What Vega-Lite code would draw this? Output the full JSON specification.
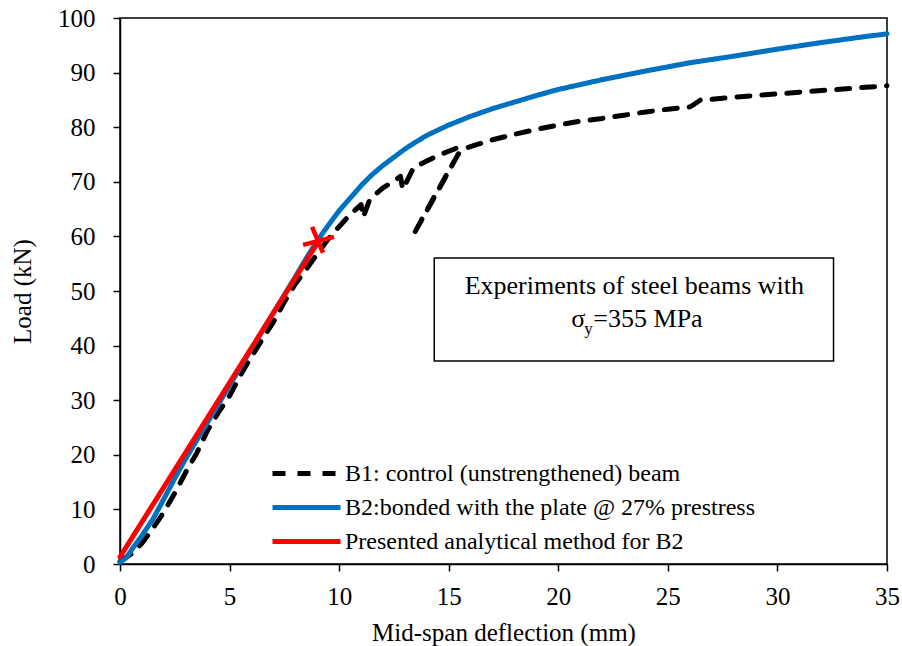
{
  "$schema": "https://vega.github.io/schema/vega-lite/v6.json",
  "width": 767,
  "height": 546,
  "autosize": {"type": "none"},
  "padding": {"left": 120, "top": 18, "right": 15, "bottom": 82},
  "background": "white",
  "config": {
    "font": "Liberation Serif",
    "view": {"stroke": "black", "strokeWidth": 1.5},
    "axis": {
      "grid": false,
      "labelFlush": false,
      "domainColor": "black",
      "domainWidth": 1.5,
      "tickColor": "black",
      "tickWidth": 1.5,
      "tickSize": 7,
      "labelFont": "Liberation Serif",
      "labelFontSize": 25,
      "labelColor": "black",
      "titleFont": "Liberation Serif",
      "titleFontSize": 25,
      "titleFontWeight": "normal",
      "titleColor": "black"
    },
    "legend": {
      "orient": "none",
      "legendX": 167,
      "legendY": 436,
      "symbolType": "M-2,0H2",
      "symbolSize": 1156,
      "symbolStrokeWidth": 5,
      "labelFont": "Liberation Serif",
      "labelFontSize": 24,
      "labelColor": "black",
      "labelOffset": 19,
      "labelLimit": 600,
      "rowPadding": 2
    }
  },
  "data": {
    "values": [
      {"s": "B1: control (unstrengthened) beam", "i": 0, "x": 0, "y": 0.5},
      {"s": "B1: control (unstrengthened) beam", "i": 1, "x": 0.5, "y": 1.8},
      {"s": "B1: control (unstrengthened) beam", "i": 2, "x": 1, "y": 3.8},
      {"s": "B1: control (unstrengthened) beam", "i": 3, "x": 1.5, "y": 6.5},
      {"s": "B1: control (unstrengthened) beam", "i": 4, "x": 2, "y": 9.5},
      {"s": "B1: control (unstrengthened) beam", "i": 5, "x": 2.5, "y": 13},
      {"s": "B1: control (unstrengthened) beam", "i": 6, "x": 3, "y": 16.8},
      {"s": "B1: control (unstrengthened) beam", "i": 7, "x": 3.5, "y": 20.3},
      {"s": "B1: control (unstrengthened) beam", "i": 8, "x": 4, "y": 24.5},
      {"s": "B1: control (unstrengthened) beam", "i": 9, "x": 4.5, "y": 27.8},
      {"s": "B1: control (unstrengthened) beam", "i": 10, "x": 5, "y": 30.8},
      {"s": "B1: control (unstrengthened) beam", "i": 11, "x": 5.5, "y": 34.6},
      {"s": "B1: control (unstrengthened) beam", "i": 12, "x": 6, "y": 38},
      {"s": "B1: control (unstrengthened) beam", "i": 13, "x": 6.5, "y": 41.2},
      {"s": "B1: control (unstrengthened) beam", "i": 14, "x": 7, "y": 44.3},
      {"s": "B1: control (unstrengthened) beam", "i": 15, "x": 7.5, "y": 48},
      {"s": "B1: control (unstrengthened) beam", "i": 16, "x": 8, "y": 51.3},
      {"s": "B1: control (unstrengthened) beam", "i": 17, "x": 8.5, "y": 54},
      {"s": "B1: control (unstrengthened) beam", "i": 18, "x": 9, "y": 56.8},
      {"s": "B1: control (unstrengthened) beam", "i": 19, "x": 9.5, "y": 59.5},
      {"s": "B1: control (unstrengthened) beam", "i": 20, "x": 10, "y": 61.8},
      {"s": "B1: control (unstrengthened) beam", "i": 21, "x": 10.5, "y": 64},
      {"s": "B1: control (unstrengthened) beam", "i": 22, "x": 11, "y": 65.8},
      {"s": "B1: control (unstrengthened) beam", "i": 23, "x": 11.1, "y": 63.5},
      {"s": "B1: control (unstrengthened) beam", "i": 24, "x": 11.4, "y": 66.8},
      {"s": "B1: control (unstrengthened) beam", "i": 25, "x": 12, "y": 68.9},
      {"s": "B1: control (unstrengthened) beam", "i": 26, "x": 12.6, "y": 70.4},
      {"s": "B1: control (unstrengthened) beam", "i": 27, "x": 12.8, "y": 71},
      {"s": "B1: control (unstrengthened) beam", "i": 28, "x": 12.9, "y": 68.6},
      {"s": "B1: control (unstrengthened) beam", "i": 29, "x": 13.4, "y": 72.6},
      {"s": "B1: control (unstrengthened) beam", "i": 30, "x": 14, "y": 73.8},
      {"s": "B1: control (unstrengthened) beam", "i": 31, "x": 14.5, "y": 74.8},
      {"s": "B1: control (unstrengthened) beam", "i": 32, "x": 15, "y": 75.6},
      {"s": "B1: control (unstrengthened) beam", "i": 33, "x": 15.5, "y": 76.4},
      {"s": "B1: control (unstrengthened) beam", "i": 34, "x": 15.4, "y": 74.8},
      {"s": "B1: control (unstrengthened) beam", "i": 35, "x": 15, "y": 71.9},
      {"s": "B1: control (unstrengthened) beam", "i": 36, "x": 14.5, "y": 68.3},
      {"s": "B1: control (unstrengthened) beam", "i": 37, "x": 14, "y": 64.7},
      {"s": "B1: control (unstrengthened) beam", "i": 38, "x": 13.35, "y": 60},
      {"s": "B1: control (unstrengthened) beam", "i": 39, "x": 14, "y": 64.8},
      {"s": "B1: control (unstrengthened) beam", "i": 40, "x": 14.5, "y": 68.4},
      {"s": "B1: control (unstrengthened) beam", "i": 41, "x": 15, "y": 72},
      {"s": "B1: control (unstrengthened) beam", "i": 42, "x": 15.5, "y": 75.5},
      {"s": "B1: control (unstrengthened) beam", "i": 43, "x": 15.8, "y": 76.2},
      {"s": "B1: control (unstrengthened) beam", "i": 44, "x": 16.2, "y": 76.7},
      {"s": "B1: control (unstrengthened) beam", "i": 45, "x": 17, "y": 77.7},
      {"s": "B1: control (unstrengthened) beam", "i": 46, "x": 18, "y": 78.7},
      {"s": "B1: control (unstrengthened) beam", "i": 47, "x": 19, "y": 79.6},
      {"s": "B1: control (unstrengthened) beam", "i": 48, "x": 20, "y": 80.4},
      {"s": "B1: control (unstrengthened) beam", "i": 49, "x": 21, "y": 81.1},
      {"s": "B1: control (unstrengthened) beam", "i": 50, "x": 22, "y": 81.6},
      {"s": "B1: control (unstrengthened) beam", "i": 51, "x": 23, "y": 82.2},
      {"s": "B1: control (unstrengthened) beam", "i": 52, "x": 24, "y": 82.8},
      {"s": "B1: control (unstrengthened) beam", "i": 53, "x": 25, "y": 83.3},
      {"s": "B1: control (unstrengthened) beam", "i": 54, "x": 26, "y": 83.7},
      {"s": "B1: control (unstrengthened) beam", "i": 55, "x": 26.2, "y": 84.2},
      {"s": "B1: control (unstrengthened) beam", "i": 56, "x": 26.5, "y": 85},
      {"s": "B1: control (unstrengthened) beam", "i": 57, "x": 27, "y": 85.1},
      {"s": "B1: control (unstrengthened) beam", "i": 58, "x": 28, "y": 85.5},
      {"s": "B1: control (unstrengthened) beam", "i": 59, "x": 29, "y": 85.8},
      {"s": "B1: control (unstrengthened) beam", "i": 60, "x": 30, "y": 86.1},
      {"s": "B1: control (unstrengthened) beam", "i": 61, "x": 31, "y": 86.4},
      {"s": "B1: control (unstrengthened) beam", "i": 62, "x": 32, "y": 86.7},
      {"s": "B1: control (unstrengthened) beam", "i": 63, "x": 33, "y": 87},
      {"s": "B1: control (unstrengthened) beam", "i": 64, "x": 34, "y": 87.3},
      {"s": "B1: control (unstrengthened) beam", "i": 65, "x": 35, "y": 87.6},
      {"s": "B2:bonded with the plate @ 27% prestress", "i": 0, "x": 0, "y": 0.3},
      {"s": "B2:bonded with the plate @ 27% prestress", "i": 1, "x": 0.3, "y": 1.2},
      {"s": "B2:bonded with the plate @ 27% prestress", "i": 2, "x": 0.6, "y": 3},
      {"s": "B2:bonded with the plate @ 27% prestress", "i": 3, "x": 1, "y": 5.2},
      {"s": "B2:bonded with the plate @ 27% prestress", "i": 4, "x": 1.5, "y": 8.2},
      {"s": "B2:bonded with the plate @ 27% prestress", "i": 5, "x": 2, "y": 11.9},
      {"s": "B2:bonded with the plate @ 27% prestress", "i": 6, "x": 2.5, "y": 15.7},
      {"s": "B2:bonded with the plate @ 27% prestress", "i": 7, "x": 3, "y": 19.3},
      {"s": "B2:bonded with the plate @ 27% prestress", "i": 8, "x": 4, "y": 26},
      {"s": "B2:bonded with the plate @ 27% prestress", "i": 9, "x": 5, "y": 32.7},
      {"s": "B2:bonded with the plate @ 27% prestress", "i": 10, "x": 6, "y": 39.4},
      {"s": "B2:bonded with the plate @ 27% prestress", "i": 11, "x": 7, "y": 46},
      {"s": "B2:bonded with the plate @ 27% prestress", "i": 12, "x": 8, "y": 52.6},
      {"s": "B2:bonded with the plate @ 27% prestress", "i": 13, "x": 8.5, "y": 56},
      {"s": "B2:bonded with the plate @ 27% prestress", "i": 14, "x": 9, "y": 59.2},
      {"s": "B2:bonded with the plate @ 27% prestress", "i": 15, "x": 9.5, "y": 62},
      {"s": "B2:bonded with the plate @ 27% prestress", "i": 16, "x": 10, "y": 64.7},
      {"s": "B2:bonded with the plate @ 27% prestress", "i": 17, "x": 10.5, "y": 67},
      {"s": "B2:bonded with the plate @ 27% prestress", "i": 18, "x": 11, "y": 69.3},
      {"s": "B2:bonded with the plate @ 27% prestress", "i": 19, "x": 11.5, "y": 71.3},
      {"s": "B2:bonded with the plate @ 27% prestress", "i": 20, "x": 12, "y": 73},
      {"s": "B2:bonded with the plate @ 27% prestress", "i": 21, "x": 12.5, "y": 74.5},
      {"s": "B2:bonded with the plate @ 27% prestress", "i": 22, "x": 13, "y": 76},
      {"s": "B2:bonded with the plate @ 27% prestress", "i": 23, "x": 13.5, "y": 77.3},
      {"s": "B2:bonded with the plate @ 27% prestress", "i": 24, "x": 14, "y": 78.5},
      {"s": "B2:bonded with the plate @ 27% prestress", "i": 25, "x": 15, "y": 80.4},
      {"s": "B2:bonded with the plate @ 27% prestress", "i": 26, "x": 16, "y": 82},
      {"s": "B2:bonded with the plate @ 27% prestress", "i": 27, "x": 17, "y": 83.4},
      {"s": "B2:bonded with the plate @ 27% prestress", "i": 28, "x": 18, "y": 84.6},
      {"s": "B2:bonded with the plate @ 27% prestress", "i": 29, "x": 19, "y": 85.8},
      {"s": "B2:bonded with the plate @ 27% prestress", "i": 30, "x": 20, "y": 86.9},
      {"s": "B2:bonded with the plate @ 27% prestress", "i": 31, "x": 22, "y": 88.7},
      {"s": "B2:bonded with the plate @ 27% prestress", "i": 32, "x": 24, "y": 90.3},
      {"s": "B2:bonded with the plate @ 27% prestress", "i": 33, "x": 26, "y": 91.8},
      {"s": "B2:bonded with the plate @ 27% prestress", "i": 34, "x": 28, "y": 93},
      {"s": "B2:bonded with the plate @ 27% prestress", "i": 35, "x": 30, "y": 94.3},
      {"s": "B2:bonded with the plate @ 27% prestress", "i": 36, "x": 32, "y": 95.5},
      {"s": "B2:bonded with the plate @ 27% prestress", "i": 37, "x": 34, "y": 96.6},
      {"s": "B2:bonded with the plate @ 27% prestress", "i": 38, "x": 35, "y": 97.1},
      {"s": "Presented analytical method for B2", "i": 0, "x": 0, "y": 1.3},
      {"s": "Presented analytical method for B2", "i": 1, "x": 9.04, "y": 59}
    ]
  },
  "encoding": {
    "x": {"field": "x", "type": "quantitative", "scale": {"domain": [0, 35], "nice": false},
      "axis": {"values": [0, 5, 10, 15, 20, 25, 30, 35], "title": "Mid-span deflection (mm)", "labelPadding": 25, "labelBaseline": "middle", "titleX": 383.5, "titleY": 68, "titleBaseline": "middle"}},
    "y": {"field": "y", "type": "quantitative", "scale": {"domain": [0, 100], "nice": false},
      "axis": {"values": [0, 10, 20, 30, 40, 50, 60, 70, 80, 90, 100], "title": "Load (kN)", "labelPadding": 18, "labelBaseline": "middle", "titleX": -98, "titleY": 273, "titleBaseline": "middle", "titleAlign": "center", "titleAngle": -90}}
  },
  "layer": [
    {
      "transform": [{"filter": "datum.s === 'Presented analytical method for B2' && datum.i === 0"}],
      "mark": {"type": "rect", "fill": "white", "stroke": "black", "strokeWidth": 1.5},
      "encoding": {
        "x": {"datum": 14.34, "type": "quantitative"},
        "x2": {"datum": 32.56},
        "y": {"datum": 56.04, "type": "quantitative"},
        "y2": {"datum": 37.18}
      }
    },
    {
      "transform": [{"filter": "datum.s === 'Presented analytical method for B2' && datum.i === 0"}],
      "mark": {"type": "text", "text": "Experiments of steel beams with", "fontSize": 26, "align": "center", "baseline": "alphabetic", "color": "black", "font": "Liberation Serif"},
      "encoding": {"x": {"datum": 23.47, "type": "quantitative"}, "y": {"datum": 49.45, "type": "quantitative"}}
    },
    {
      "transform": [{"filter": "datum.s === 'Presented analytical method for B2' && datum.i === 0"}],
      "mark": {"type": "text", "text": "σ", "fontSize": 26, "align": "right", "baseline": "alphabetic", "color": "black", "font": "Liberation Serif", "dx": -8},
      "encoding": {"x": {"datum": 21.6, "type": "quantitative"}, "y": {"datum": 43.4, "type": "quantitative"}}
    },
    {
      "transform": [{"filter": "datum.s === 'Presented analytical method for B2' && datum.i === 0"}],
      "mark": {"type": "text", "text": "y", "fontSize": 17, "align": "left", "baseline": "alphabetic", "color": "black", "font": "Liberation Serif", "dx": -9},
      "encoding": {"x": {"datum": 21.6, "type": "quantitative"}, "y": {"datum": 42.2, "type": "quantitative"}}
    },
    {
      "transform": [{"filter": "datum.s === 'Presented analytical method for B2' && datum.i === 0"}],
      "mark": {"type": "text", "text": "=355 MPa", "fontSize": 26, "align": "left", "baseline": "alphabetic", "color": "black", "font": "Liberation Serif"},
      "encoding": {"x": {"datum": 21.6, "type": "quantitative"}, "y": {"datum": 43.4, "type": "quantitative"}}
    },
    {
      "transform": [{"filter": "datum.s === 'B1: control (unstrengthened) beam'"}],
      "mark": {"type": "line", "strokeWidth": 5, "strokeCap": "round", "strokeJoin": "round"},
      "encoding": {
        "order": {"field": "i", "type": "quantitative"},
        "color": {"field": "s", "type": "nominal", "title": null,
          "scale": {"domain": ["B1: control (unstrengthened) beam", "B2:bonded with the plate @ 27% prestress", "Presented analytical method for B2"], "range": ["#000000", "#0070C0", "#FF0000"]}},
        "strokeDash": {"field": "s", "type": "nominal", "title": null,
          "scale": {"domain": ["B1: control (unstrengthened) beam", "B2:bonded with the plate @ 27% prestress", "Presented analytical method for B2"], "range": [[13, 12], [1, 0], [1, 0]]}}
      }
    },
    {
      "transform": [{"filter": "datum.s === 'B2:bonded with the plate @ 27% prestress'"}],
      "mark": {"type": "line", "strokeWidth": 5, "strokeCap": "round", "strokeJoin": "round"},
      "encoding": {
        "order": {"field": "i", "type": "quantitative"},
        "color": {"field": "s", "type": "nominal", "title": null},
        "strokeDash": {"field": "s", "type": "nominal", "title": null}
      }
    },
    {
      "transform": [{"filter": "datum.s === 'Presented analytical method for B2'"}],
      "mark": {"type": "line", "strokeWidth": 5, "strokeCap": "round", "strokeJoin": "round"},
      "encoding": {
        "order": {"field": "i", "type": "quantitative"},
        "color": {"field": "s", "type": "nominal", "title": null},
        "strokeDash": {"field": "s", "type": "nominal", "title": null}
      }
    },
    {
      "transform": [{"filter": "datum.s === 'Presented analytical method for B2' && datum.i === 1"}],
      "mark": {"type": "point", "shape": "M-0.38,-0.94L0.31,0.69M-0.94,0.19L1,-0.31", "size": 1024, "filled": false, "stroke": "#FF0000", "strokeWidth": 4.5, "opacity": 1}
    }
  ]
}
